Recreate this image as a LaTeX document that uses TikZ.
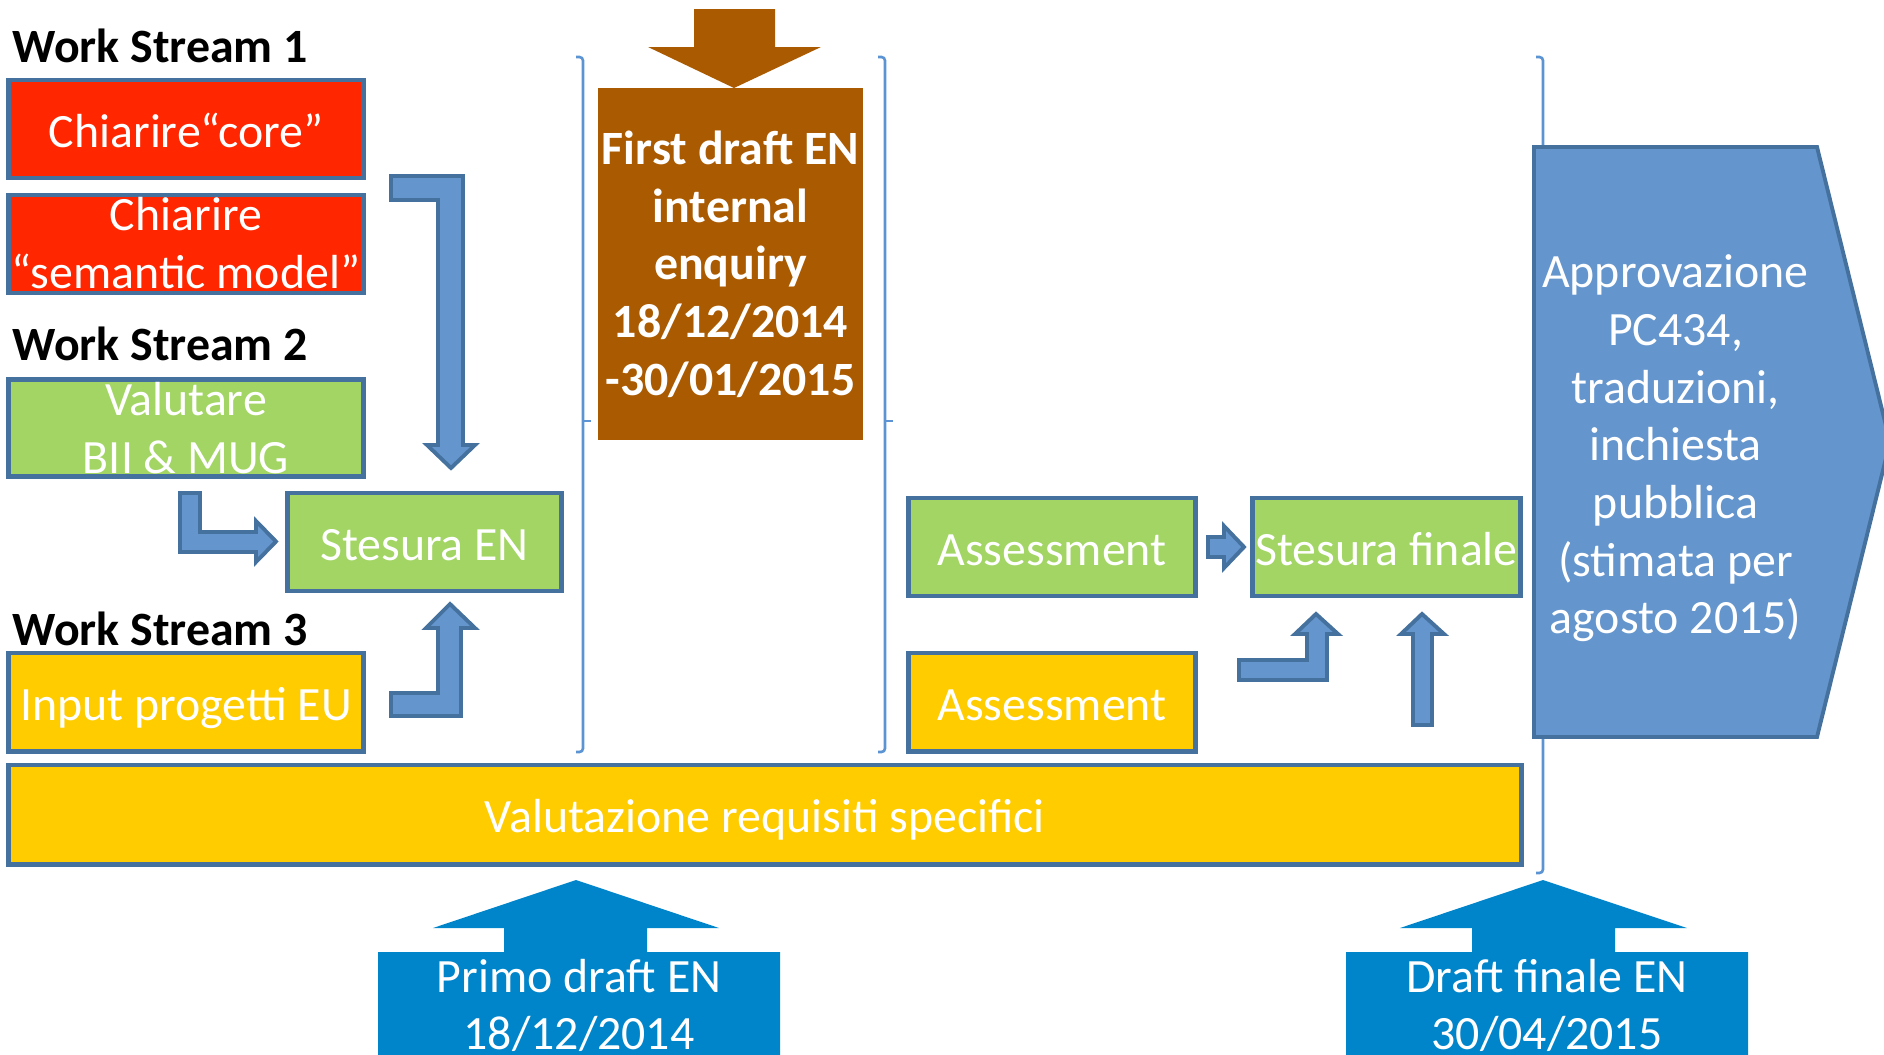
\documentclass[tikz,border=0pt]{standalone}
\usepackage{fontspec}
\setmainfont{Carlito}
\usepackage{tikz}

\definecolor{wsred}{HTML}{FF2600}
\definecolor{wsgreen}{HTML}{A2D563}
\definecolor{wsyellow}{HTML}{FFCC00}
\definecolor{wsborder}{HTML}{45719E}
\definecolor{arrowfill}{HTML}{6495CD}
\definecolor{brownbox}{HTML}{AA5A00}
\definecolor{draftblue}{HTML}{0085CA}
\definecolor{bracketblue}{HTML}{5B93D3}

\newcommand{\wsfont}{\fontsize{13.6pt}{16.4pt}\selectfont}

\tikzset{
    wsbox/.style={draw=wsborder, line width=1.4pt, text=white, align=center, inner sep=0pt,
        font=\wsfont, text height=0.36cm, text depth=0cm},
    redbox/.style={wsbox, fill=wsred},
    greenbox/.style={wsbox, fill=wsgreen},
    yellowbox/.style={wsbox, fill=wsyellow},
    wslabel/.style={anchor=base west, inner sep=0pt, font=\wsfont\bfseries},
    whitetext/.style={text=white, align=center, inner sep=0pt, font=\wsfont, text depth=0cm},
    blockarrow/.style={fill=arrowfill, draw=wsborder, line width=1.1pt, line join=miter},
    timebrace/.style={draw=bracketblue, line width=0.75pt, rounded corners=1pt},
}

\begin{document}
\begin{tikzpicture}[x=0.01cm, y=-0.01cm]
    \useasboundingbox (0, 0) rectangle (1884, 1054);
    \clip (0, 0) rectangle (1884, 1054);

    \draw[timebrace] (576, 57) -- (583, 57) -- (583, 752) -- (576, 752);
    \draw[timebrace] (583, 421) -- (591, 421);
    \draw[timebrace] (878, 57) -- (885, 57) -- (885, 752) -- (878, 752);
    \draw[timebrace] (885, 421) -- (893, 421);
    \draw[timebrace] (1536, 57) -- (1543, 57) -- (1543, 873) -- (1536, 873);
    \draw[timebrace] (1543, 484) -- (1551, 484);

    \node[wslabel] (ws1) at (12, 62) {Work Stream 1};
    \node[wslabel] (ws2) at (12, 360) {Work Stream 2};
    \node[wslabel] (ws3) at (12, 645) {Work Stream 3};

    \node[redbox, minimum width=3.54cm, minimum height=0.98cm] (core) at (186, 129) {Chiarire“core”};
    \node[redbox, minimum width=3.54cm, minimum height=0.98cm, text height=0.88cm] (semantic) at (186, 244) {Chiarire\\“semantic model”};
    \node[greenbox, minimum width=3.54cm, minimum height=0.97cm, text height=0.9cm] (valutare) at (186, 428) {Valutare\\BII \& MUG};
    \node[greenbox, minimum width=2.73cm, minimum height=0.98cm] (stesuraEN) at (424.5, 542) {Stesura EN};
    \node[yellowbox, minimum width=3.54cm, minimum height=0.98cm] (input) at (186, 702) {Input progetti EU};

    \node[greenbox, minimum width=2.86cm, minimum height=0.98cm] (assessG) at (1052, 547) {Assessment};
    \node[greenbox, minimum width=2.67cm, minimum height=0.98cm] (finale) at (1386.5, 547) {Stesura finale};
    \node[yellowbox, minimum width=2.86cm, minimum height=0.98cm] (assessY) at (1052, 702) {Assessment};

    \node[yellowbox, minimum width=15.12cm, minimum height=0.99cm] (requisiti) at (765, 814.5) {Valutazione requisiti specifici};

    \fill[brownbox] (694, 9) -- (775, 9) -- (775, 47) -- (821, 47) -- (734, 88) -- (648, 47) -- (694, 47) -- cycle;
    \node[fill=brownbox, text=white, align=center, inner sep=0pt, font=\wsfont\bfseries,
        minimum width=2.65cm, minimum height=3.51cm, text height=2.62cm, text depth=0cm]
        (enquiry) at (730.5, 264) {First draft EN\\internal\\enquiry\\18/12/2014\\-30/01/2015};

    \draw[blockarrow] (391, 176) -- (463, 176) -- (463, 445) -- (475, 445) -- (451, 468) -- (427, 445) -- (438, 445) -- (438, 200) -- (391, 200) -- cycle;
    \draw[blockarrow] (180, 493) -- (200, 493) -- (200, 532) -- (256, 532) -- (256, 521) -- (276, 541.5) -- (256, 562) -- (256, 552) -- (180, 552) -- cycle;
    \draw[blockarrow] (391, 716) -- (461, 716) -- (461, 628) -- (475, 628) -- (450, 604) -- (426, 628) -- (438, 628) -- (438, 693) -- (391, 693) -- cycle;
    \draw[blockarrow] (1208, 537) -- (1224, 537) -- (1224, 526) -- (1244, 547) -- (1224, 568) -- (1224, 557) -- (1208, 557) -- cycle;
    \draw[blockarrow] (1239, 680) -- (1327, 680) -- (1327, 634) -- (1338, 634) -- (1316, 614) -- (1295, 634) -- (1307, 634) -- (1307, 660) -- (1239, 660) -- cycle;
    \draw[blockarrow] (1413, 725) -- (1432, 725) -- (1432, 634) -- (1444, 634) -- (1422, 614) -- (1401, 634) -- (1413, 634) -- cycle;

    \draw[blockarrow] (1534, 147) -- (1817, 147) -- (1890, 442) -- (1817, 737) -- (1534, 737) -- cycle;
    \node[whitetext, text height=3.82cm] (approvazione) at (1675.5, 442.8)
        {Approvazione\\PC434,\\traduzioni,\\inchiesta\\pubblica\\(stimata per\\agosto 2015)};

    \fill[draftblue] (576, 880) -- (719, 928) -- (647, 928) -- (647, 952) -- (780, 952) -- (780, 1070) -- (378, 1070) -- (378, 952) -- (504, 952) -- (504, 928) -- (433, 928) -- cycle;
    \node[whitetext, text height=0.92cm] (primo) at (579, 1003.8) {Primo draft EN\\18/12/2014};

    \fill[draftblue] (1543, 880) -- (1687, 928) -- (1615, 928) -- (1615, 952) -- (1748, 952) -- (1748, 1070) -- (1346, 1070) -- (1346, 952) -- (1472, 952) -- (1472, 928) -- (1400, 928) -- cycle;
    \node[whitetext, text height=0.92cm] (draftfinale) at (1547, 1003.8) {Draft finale EN\\30/04/2015};
\end{tikzpicture}
\end{document}
